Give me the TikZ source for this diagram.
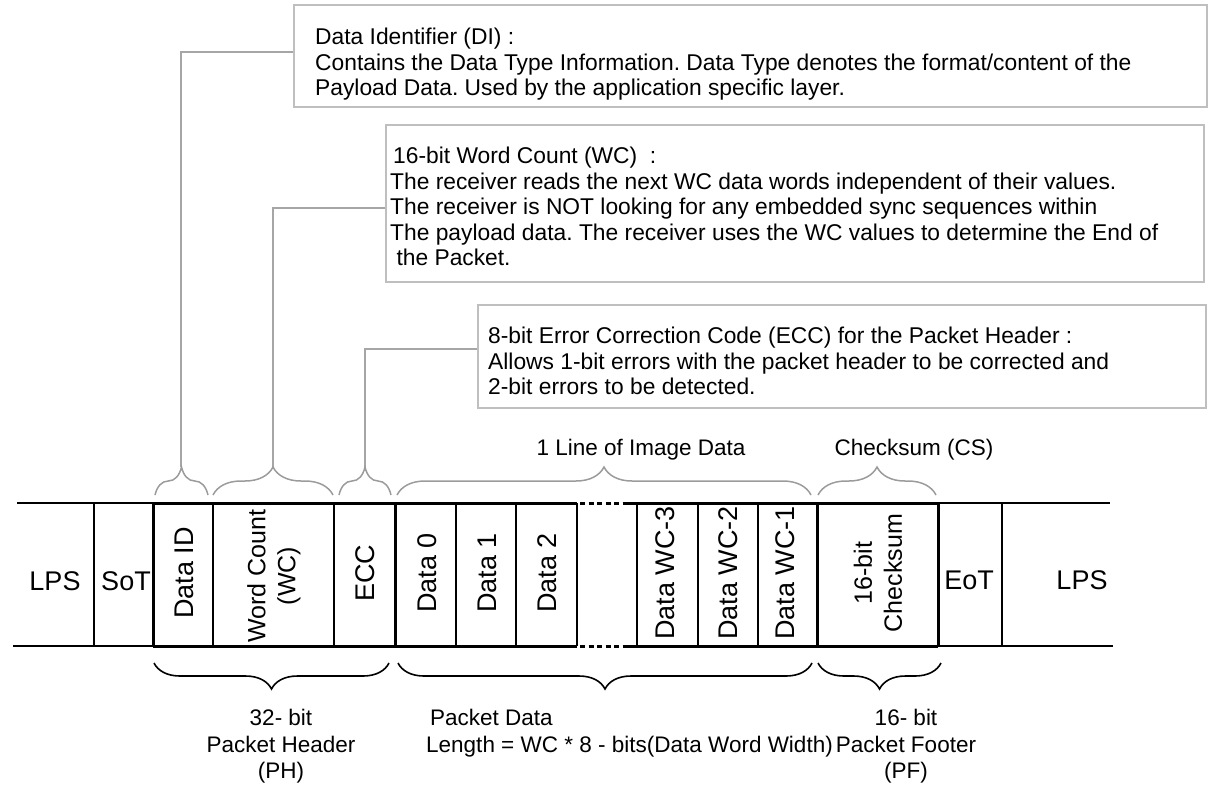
\documentclass[tikz,border=0pt]{standalone}
\usepackage{fontspec}
\setmainfont{Liberation Sans}
\usetikzlibrary{decorations.pathreplacing}
\definecolor{boxgray}{RGB}{191,191,191}
\definecolor{conngray}{RGB}{166,166,166}
\definecolor{bracegray}{RGB}{155,155,155}
\frenchspacing
\begin{document}
\begin{tikzpicture}[x=1pt,y=-1pt,
  descbox/.style={draw=boxgray, line width=2pt, inner sep=0pt},
  desctext/.style={font=\fontsize{22.8}{25.5}\selectfont, align=left, inner sep=0pt, anchor=north west},
  conn/.style={draw=conngray, line width=1.6pt},
  gbrace/.style={draw=bracegray, line width=1.5pt, decorate, decoration={brace, amplitude=28pt}},
  bbrace/.style={draw=black, line width=1.6pt, decorate, decoration={brace, mirror, amplitude=26pt}},
  thinline/.style={line width=1.2pt},
  heavyline/.style={line width=3pt},
  dotline/.style={line width=3pt, dash pattern=on 5pt off 3.5pt},
  cell/.style={font=\fontsize{27}{31}\selectfont, inner sep=0pt},
  vcell/.style={cell, rotate=90, align=center},
  vcellsmall/.style={vcell, font=\fontsize{25}{30}\selectfont},
  lbl/.style={font=\fontsize{22.5}{26.5}\selectfont, inner sep=0pt}
]
\useasboundingbox (0,0) rectangle (1209,785);

% ---------- description boxes ----------
\node[descbox, minimum width=913pt, minimum height=102pt] (di) at (750.5,56) {};
\node[descbox, minimum width=818pt, minimum height=157pt] (wc) at (795,203.5) {};
\node[descbox, minimum width=728pt, minimum height=103pt] (ecc) at (842,356.5) {};

\node[desctext] (ditext) at (315,28) {Data Identifier (DI) :\\
Contains the Data Type Information. Data Type denotes the format/content of the\\
Payload Data. Used by the application specific layer.};
\node[desctext] (wctext) at (390,147) {\hspace{3pt}16-bit Word Count (WC)\ \ :\\
The receiver reads the next WC data words independent of their values.\\
The receiver is NOT looking for any embedded sync sequences within\\
The payload data. The receiver uses the WC values to determine the End of\\
\ the Packet.};
\node[desctext] (ecctext) at (488,327) {8-bit Error Correction Code (ECC) for the Packet Header :\\
Allows 1-bit errors with the packet header to be corrected and\\
2-bit errors to be detected.};

% ---------- brace tips / connectors ----------
\coordinate (ditip) at (181,467);
\coordinate (wctip) at (273,467);
\coordinate (ecctip) at (365,467);
\draw[conn] ([yshift=4pt]di.west) -| (ditip);
\draw[conn] ([yshift=-4.5pt]wc.west) -| (wctip);
\draw[conn] ([yshift=7.5pt]ecc.west) -| (ecctip);

% ---------- top braces ----------
\draw[gbrace] (155,495) -- (208,495);
\draw[gbrace] (213,495) -- (333,495);
\draw[gbrace] (339,495) -- (391,495);
\draw[gbrace] (397,495) -- (811,495);
\draw[gbrace] (818,495) -- (936,495);
\node[lbl, anchor=base] (imglbl) at (641,455) {1 Line of Image Data};
\node[lbl, anchor=base] (cslbl) at (914,455) {Checksum (CS)};

% ---------- packet row ----------
\draw[thinline] (17,503) -- (153,503);
\draw[thinline] (938,503) -- (1110,503);
\draw[thinline] (13,646) -- (153,646);
\draw[thinline] (938,646) -- (1113,646);
\draw[heavyline] (153,503) -- (577,503) (628,503) -- (938,503);
\draw[heavyline] (153,646) -- (577,646) (628,646) -- (938,646);
\draw[dotline] (580,503) -- (628,503);
\draw[dotline] (580,646) -- (628,646);
\foreach \x in {94,213,334,456,516,577,637,698,758,1002}
  \draw[thinline] (\x,503) -- (\x,646);
\foreach \x in {153,395,817,938}
  \draw[heavyline] (\x,503) -- (\x,646);

\node[cell] (lpsl) at (55,581) {LPS};
\node[cell] (sot) at (126,581) {SoT};
\node[vcell] (dataid) at (184,573) {Data ID};
\node[vcellsmall] (wordcount) at (274,576) {Word Count\\(WC)};
\node[vcell] (ecccell) at (365,573) {ECC};
\node[vcell] (d0) at (427,573) {Data 0};
\node[vcell] (d1) at (487,573) {Data 1};
\node[vcell] (d2) at (547,573) {Data 2};
\node[vcell] (dw3) at (665,573) {Data WC-3};
\node[vcell] (dw2) at (728,573) {Data WC-2};
\node[vcell] (dw1) at (785,573) {Data WC-1};
\node[vcellsmall] (cs) at (878,573) {16-bit\\Checksum};
\node[cell] (eot) at (969,580) {EoT};
\node[cell] (lpsr) at (1082,580) {LPS};

% ---------- bottom braces ----------
\draw[bbrace] (154,663) -- (389,663);
\draw[bbrace] (398,663) -- (812,663);
\draw[bbrace] (818,663) -- (941,663);
\node[lbl, align=center, anchor=north] (phlbl) at (281,709) {32- bit\\Packet Header\\(PH)};
\node[lbl, align=left, anchor=north west] (pdlbl) at (426,709) {\hspace{4pt}Packet Data\\Length = WC * 8 - bits(Data Word Width)};
\node[lbl, align=center, anchor=north] (pflbl) at (906,709) {16- bit\\Packet Footer\\(PF)};
\end{tikzpicture}
\end{document}
